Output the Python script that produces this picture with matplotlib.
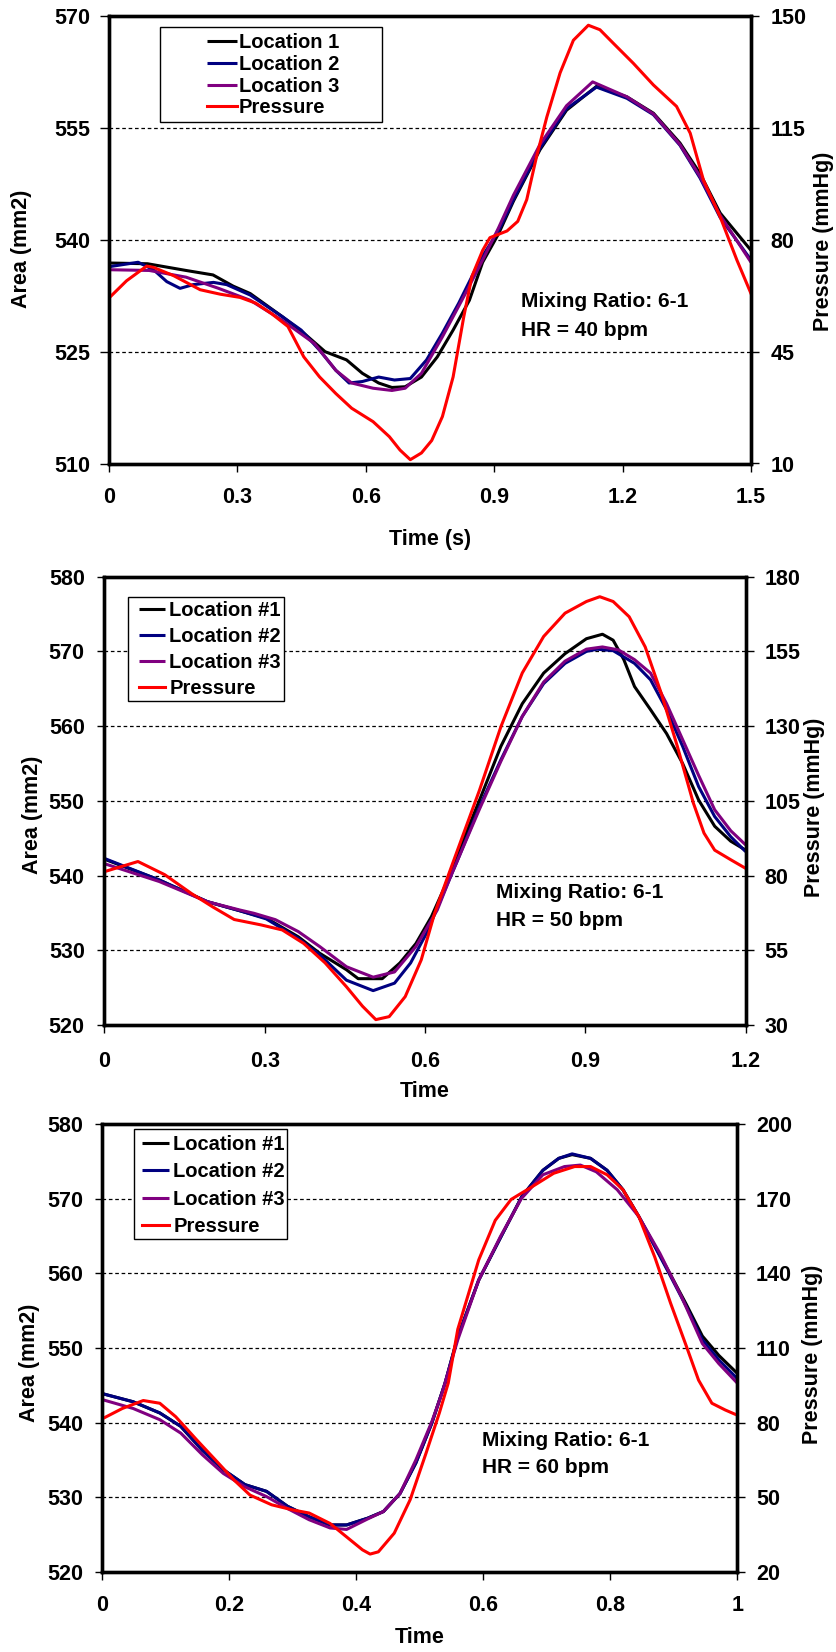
import matplotlib
matplotlib.use("Agg")
import matplotlib.pyplot as plt
from matplotlib.patches import Rectangle
from matplotlib.ticker import FixedLocator, FixedFormatter

plt.rcParams['font.family'] = ['Liberation Sans', 'DejaVu Sans']
plt.rcParams['font.weight'] = 'bold'

# ---------------- Panel 1 data (HR = 40 bpm) ----------------
p1_t_loc1 = [0, 0.09, 0.18, 0.243, 0.29, 0.33, 0.405, 0.455, 0.505, 0.555, 0.592, 0.63, 0.661, 0.692,
             0.73, 0.767, 0.804, 0.842, 0.873, 0.91, 0.945, 1.007, 1.069, 1.139, 1.21, 1.272, 1.334,
             1.381, 1.428, 1.5]
p1_a_loc1 = [536.9, 536.8, 535.9, 535.3, 533.8, 532.8, 529.7, 527.5, 525.0, 523.9, 522.1, 520.8, 520.2,
             520.3, 521.6, 524.3, 527.9, 531.9, 537.0, 540.8, 545.2, 552.1, 557.4, 560.6, 559.2, 557.0,
             553.0, 548.9, 543.6, 538.6]
p1_t_loc2 = [0, 0.068, 0.104, 0.135, 0.166, 0.197, 0.244, 0.275, 0.33, 0.405, 0.449, 0.492, 0.53, 0.561,
             0.592, 0.63, 0.667, 0.704, 0.742, 0.779, 0.817, 0.867, 0.91, 0.945, 1.007, 1.069, 1.139,
             1.21, 1.272, 1.334, 1.381, 1.428, 1.5]
p1_a_loc2 = [536.4, 537.0, 536.0, 534.4, 533.5, 534.0, 534.3, 534.0, 532.6, 529.7, 527.9, 525.2, 522.5,
             520.8, 521.0, 521.6, 521.2, 521.4, 523.9, 527.5, 531.5, 537.3, 541.2, 545.4, 552.3, 557.6,
             560.5, 559.0, 556.8, 552.7, 548.3, 543.0, 537.3]
p1_t_loc3 = [0, 0.094, 0.18, 0.256, 0.33, 0.405, 0.48, 0.53, 0.567, 0.617, 0.661, 0.692, 0.73, 0.779,
             0.829, 0.873, 0.91, 0.945, 1.007, 1.069, 1.13, 1.21, 1.272, 1.334, 1.381, 1.428, 1.5]
p1_a_loc3 = [536.0, 535.9, 535.0, 533.5, 531.9, 529.2, 526.1, 522.5, 520.8, 520.1, 519.8, 520.1, 522.1,
             527.0, 532.4, 537.3, 541.6, 546.0, 552.8, 558.0, 561.2, 559.2, 556.9, 552.8, 548.5, 543.3,
             537.0]
p1_t_pres = [0, 0.041, 0.088, 0.104, 0.151, 0.213, 0.26, 0.306, 0.343, 0.38, 0.418, 0.455, 0.492, 0.53,
             0.567, 0.617, 0.655, 0.68, 0.704, 0.73, 0.754, 0.779, 0.804, 0.829, 0.848, 0.873, 0.89,
             0.93, 0.955, 0.976, 0.999, 1.023, 1.054, 1.085, 1.12, 1.147, 1.178, 1.225, 1.272, 1.326,
             1.358, 1.389, 1.428, 1.467, 1.5]
p1_pres = [61.8, 67.2, 71.8, 71.4, 68.8, 64.4, 63.0, 62.0, 60.2, 56.9, 52.9, 43.4, 37.1, 31.9, 27.3,
           23.1, 18.4, 14.2, 11.2, 13.3, 17.2, 24.7, 37.1, 56.0, 68.6, 76.7, 80.7, 82.8, 85.8, 92.6,
           106.1, 118.5, 132.3, 142.5, 147.2, 145.8, 141.6, 135.3, 128.5, 121.8, 113.4, 98.7, 87.2,
           73.7, 63.2]
p1_xticks = [0, 0.3, 0.6, 0.9, 1.2, 1.5]
p1_xlabels = ["0", "0.3", "0.6", "0.9", "1.2", "1.5"]
p1_yticks = [510, 525, 540, 555, 570]
p1_rticks = [10, 45, 80, 115, 150]
p1_legend = ["Location 1", "Location 2", "Location 3", "Pressure"]
p1_note = ["Mixing Ratio: 6-1", "HR = 40 bpm"]
p1_xtitle = "Time (s)"

# ---------------- Panel 2 data (HR = 50 bpm) ----------------
p2_t_loc1 = [0, 0.103, 0.193, 0.253, 0.303, 0.363, 0.403, 0.453, 0.475, 0.52, 0.553, 0.583, 0.612, 0.637,
             0.652, 0.702, 0.742, 0.782, 0.822, 0.862, 0.902, 0.932, 0.952, 0.972, 0.992, 1.022, 1.052,
             1.082, 1.112, 1.142, 1.172, 1.2]
p2_a_loc1 = [542.2, 539.4, 536.5, 535.3, 534.3, 531.8, 529.6, 527.4, 526.2, 526.2, 528.3, 530.9, 534.5,
             538.5, 541.3, 550.1, 557.3, 563.0, 567.1, 569.7, 571.7, 572.3, 571.5, 568.9, 565.3, 562.2,
             559.0, 555.0, 550.1, 546.6, 544.6, 543.4]
p2_t_loc2 = [0, 0.103, 0.193, 0.253, 0.303, 0.363, 0.403, 0.453, 0.503, 0.543, 0.573, 0.603, 0.632, 0.66,
             0.702, 0.742, 0.782, 0.822, 0.862, 0.902, 0.922, 0.952, 0.992, 1.022, 1.052, 1.082, 1.112,
             1.142, 1.172, 1.2]
p2_a_loc2 = [542.3, 539.4, 536.5, 535.3, 534.2, 531.6, 529.4, 526.0, 524.6, 525.6, 528.3, 532.3, 537.2,
             541.9, 549.2, 555.5, 561.3, 565.7, 568.4, 570.0, 570.3, 570.1, 568.4, 566.2, 562.2, 557.3,
             551.9, 547.9, 545.2, 543.2]
p2_t_loc3 = [0, 0.103, 0.193, 0.253, 0.28, 0.32, 0.363, 0.403, 0.453, 0.503, 0.543, 0.583, 0.623, 0.648,
             0.702, 0.742, 0.782, 0.822, 0.862, 0.902, 0.932, 0.962, 0.992, 1.022, 1.052, 1.082, 1.112,
             1.142, 1.172, 1.2]
p2_a_loc3 = [541.6, 539.2, 536.5, 535.4, 534.95, 534.1, 532.5, 530.5, 527.8, 526.4, 527.1, 530.5, 535.4,
             539.9, 548.9, 555.3, 561.3, 565.9, 568.7, 570.3, 570.6, 570.2, 568.9, 567.1, 563.0, 558.2,
             553.4, 548.8, 546.0, 544.1]
p2_t_pres = [0, 0.063, 0.113, 0.163, 0.203, 0.243, 0.293, 0.333, 0.373, 0.413, 0.453, 0.483, 0.508, 0.533,
             0.563, 0.593, 0.618, 0.643, 0.67, 0.702, 0.742, 0.782, 0.822, 0.862, 0.902, 0.927, 0.952,
             0.982, 1.012, 1.042, 1.072, 1.102, 1.122, 1.142, 1.172, 1.2]
p2_pres = [81.3, 84.7, 80.3, 74.0, 69.5, 65.3, 63.5, 61.8, 57.3, 50.8, 42.8, 36.3, 31.8, 32.8, 39.5,
           51.8, 67.4, 79.8, 93.0, 108.6, 129.8, 147.8, 160.0, 167.8, 171.7, 173.3, 171.7, 166.6, 156.5,
           141.0, 123.3, 104.3, 94.2, 88.5, 85.3, 82.4]
p2_xticks = [0, 0.3, 0.6, 0.9, 1.2]
p2_xlabels = ["0", "0.3", "0.6", "0.9", "1.2"]
p2_yticks = [520, 530, 540, 550, 560, 570, 580]
p2_rticks = [30, 55, 80, 105, 130, 155, 180]
p2_legend = ["Location #1", "Location #2", "Location #3", "Pressure"]
p2_note = ["Mixing Ratio: 6-1", "HR = 50 bpm"]
p2_xtitle = "Time"

# ---------------- Panel 3 data (HR = 60 bpm) ----------------
p3_t_loc1 = [0, 0.049, 0.091, 0.124, 0.158, 0.191, 0.225, 0.259, 0.292, 0.326, 0.359, 0.385, 0.418, 0.443,
             0.469, 0.494, 0.519, 0.54, 0.56, 0.593, 0.628, 0.661, 0.694, 0.719, 0.74, 0.769, 0.795, 0.82,
             0.845, 0.87, 0.895, 0.92, 0.945, 0.971, 1.0]
p3_a_loc1 = [543.9, 542.8, 541.3, 539.5, 536.3, 533.7, 531.7, 530.8, 528.8, 527.4, 526.3, 526.3, 527.2,
             528.1, 530.5, 534.6, 539.9, 545.3, 551.5, 559.1, 564.9, 570.3, 573.8, 575.4, 575.9, 575.4,
             573.8, 571.2, 567.6, 563.7, 559.8, 555.8, 551.6, 549.0, 546.6]
p3_t_loc2 = [0, 0.049, 0.091, 0.124, 0.158, 0.191, 0.225, 0.259, 0.292, 0.326, 0.359, 0.385, 0.418, 0.443,
             0.469, 0.494, 0.519, 0.54, 0.56, 0.593, 0.628, 0.661, 0.694, 0.719, 0.74, 0.769, 0.795, 0.82,
             0.845, 0.87, 0.895, 0.92, 0.945, 0.971, 1.0]
p3_a_loc2 = [543.9, 542.8, 541.3, 539.5, 536.3, 533.7, 531.7, 530.8, 528.8, 527.4, 526.3, 526.3, 527.2,
             528.1, 530.5, 534.6, 539.9, 545.3, 551.5, 559.1, 564.9, 570.3, 573.8, 575.4, 576.0, 575.4,
             573.8, 571.2, 567.6, 563.6, 559.6, 555.5, 551.1, 548.4, 545.9]
p3_t_loc3 = [0, 0.049, 0.091, 0.124, 0.158, 0.191, 0.225, 0.259, 0.292, 0.326, 0.359, 0.385, 0.418, 0.443,
             0.469, 0.494, 0.519, 0.535, 0.56, 0.593, 0.627, 0.66, 0.694, 0.728, 0.753, 0.778, 0.811,
             0.845, 0.878, 0.912, 0.945, 0.971, 1.0]
p3_a_loc3 = [543.1, 541.9, 540.4, 538.6, 535.7, 533.2, 531.4, 530.1, 528.5, 527.0, 525.9, 525.7, 527.1,
             528.1, 530.5, 535.0, 540.1, 543.9, 551.1, 559.1, 564.9, 570.0, 573.2, 574.3, 574.5, 573.6,
             571.2, 567.6, 562.7, 556.9, 550.6, 547.9, 545.3]
p3_t_pres = [0, 0.032, 0.065, 0.091, 0.116, 0.149, 0.183, 0.208, 0.233, 0.267, 0.301, 0.326, 0.359, 0.385,
             0.41, 0.422, 0.435, 0.46, 0.485, 0.51, 0.531, 0.545, 0.56, 0.593, 0.619, 0.644, 0.677, 0.711,
             0.744, 0.769, 0.795, 0.82, 0.845, 0.87, 0.895, 0.92, 0.939, 0.96, 0.981, 1.0]
p3_pres = [81.5, 85.7, 88.9, 87.8, 82.4, 73.1, 63.8, 56.9, 50.9, 47.0, 44.9, 43.7, 39.5, 34.1, 28.9,
           27.2, 28.1, 35.6, 49.0, 67.7, 83.9, 95.9, 117.5, 145.4, 161.3, 169.7, 174.8, 180.2, 182.9,
           182.9, 179.6, 173.6, 162.8, 146.6, 128.0, 110.6, 97.1, 87.8, 85.1, 83.0]
p3_xticks = [0, 0.2, 0.4, 0.6, 0.8, 1.0]
p3_xlabels = ["0", "0.2", "0.4", "0.6", "0.8", "1"]
p3_yticks = [520, 530, 540, 550, 560, 570, 580]
p3_rticks = [20, 50, 80, 110, 140, 170, 200]
p3_legend = ["Location #1", "Location #2", "Location #3", "Pressure"]
p3_note = ["Mixing Ratio: 6-1", "HR = 60 bpm"]
p3_xtitle = "Time"

left_title = "Area (mm2)"
right_title = "Pressure (mmHg)"
colors = ["#000000", "#000080", "#800080", "#FF0000"]

W, H = 836, 1652
fig = plt.figure(figsize=(W / 100, H / 100), dpi=100)

FS = 15.5
LW = 2.2


def make_panel(px, series, pres, xticks, xlabels, yticks, rticks, legend_labels, note, xtitle, lay):
    x0, x1, y0, y1 = px
    ax = fig.add_axes([x0 / W, 1 - y1 / H, (x1 - x0) / W, (y1 - y0) / H])
    ax2 = ax.twinx()
    handles = []
    for (t, a), c in zip(series, colors[:3]):
        h, = ax.plot(t, a, color=c, lw=LW, solid_joinstyle='round', solid_capstyle='butt')
        handles.append(h)
    h, = ax2.plot(pres[0], pres[1], color=colors[3], lw=LW, solid_joinstyle='round')
    handles.append(h)

    ax.set_xlim(xticks[0], xticks[-1])
    ax.set_ylim(yticks[0], yticks[-1])
    ax2.set_ylim(rticks[0], rticks[-1])
    ax.xaxis.set_major_locator(FixedLocator(xticks))
    ax.xaxis.set_major_formatter(FixedFormatter(xlabels))
    ax.set_yticks(yticks)
    ax.set_yticklabels([str(v) for v in yticks])
    ax2.set_yticks(rticks)
    ax2.set_yticklabels([str(v) for v in rticks])

    ax.yaxis.grid(True, linestyle=(0, (2.9, 2.2)), color='black', lw=0.9)
    for a_ in (ax, ax2):
        for s in a_.spines.values():
            s.set_linewidth(2.4)
    ax.tick_params(axis='y', direction='out', length=lay['ylen'], width=1, pad=lay['lpad'],
                   labelsize=FS, right=False)
    ax.tick_params(axis='x', direction='out', length=5.8, width=1, pad=lay['xpad'], labelsize=FS, top=False)
    ax2.tick_params(axis='y', direction='out', length=5.5, width=1, pad=lay['rpad'], labelsize=FS)
    for lab in ax.get_xticklabels() + ax.get_yticklabels() + ax2.get_yticklabels():
        lab.set_fontweight('bold')

    ax.set_xlabel(xtitle, fontsize=FS, fontweight='bold')
    ax.xaxis.set_label_coords(0.5, lay['xlab_y'])
    ax.xaxis.label.set_va('center')
    ax.set_ylabel(left_title, fontsize=FS, fontweight='bold')
    ax.yaxis.set_label_coords(lay['ylab'][0], lay['ylab'][1])
    ax.yaxis.label.set_va('center')
    ax2.set_ylabel(right_title, fontsize=FS, fontweight='bold')
    ax2.yaxis.set_label_coords(lay['rlab'][0], lay['rlab'][1])
    ax2.yaxis.label.set_va('center')

    ax.text(lay['note'][0], lay['note'][1], note[0], transform=ax.transAxes, fontsize=15,
            fontweight='bold', ha='left', va='center')
    ax.text(lay['note'][0], lay['note'][2], note[1], transform=ax.transAxes, fontsize=15,
            fontweight='bold', ha='left', va='center')

    bx0, bx1, by1, by0 = lay['box']
    ax2.add_patch(Rectangle((bx0, by0), bx1 - bx0, by1 - by0, transform=ax2.transAxes,
                            facecolor='white', edgecolor='black', lw=1.0, zorder=4))
    leg = ax2.legend(handles, legend_labels, loc='upper left', bbox_to_anchor=lay['leg'],
                     frameon=False, borderpad=0, borderaxespad=0, handlelength=lay['hl'],
                     handletextpad=lay['htp'], labelspacing=lay['ls'],
                     prop={'weight': 'bold', 'size': 14.5})
    leg.set_zorder(5)
    return ax, ax2


layouts = [
    dict(ylen=6.5, lpad=6.7, rpad=8.4, xpad=11, xlab_y=-0.1695, ylab=(-0.136, 0.48), rlab=(1.1137, 0.4975),
         note=(0.6425, 0.3618, 0.297), box=(0.0794, 0.425, 0.976, 0.7636), leg=(0.152, 0.9624),
         hl=1.49, htp=0.12, ls=0.135),
    dict(ylen=5.2, lpad=8.9, rpad=8.1, xpad=12.7, xlab_y=-0.1488, ylab=(-0.1127, 0.4684), rlab=(1.108, 0.4863),
         note=(0.6102, 0.2951, 0.232), box=(0.0374, 0.2797, 0.9554, 0.7227), leg=(0.0541, 0.9449),
         hl=1.29, htp=0.21, ls=0.34),
    dict(ylen=5.2, lpad=8.4, rpad=8.0, xpad=10.6, xlab_y=-0.1473, ylab=(-0.1149, 0.4665), rlab=(1.1176, 0.4866),
         note=(0.5986, 0.2946, 0.2337), box=(0.0504, 0.2917, 0.9888, 0.7426), leg=(0.0637, 0.9753),
         hl=1.32, htp=0.21, ls=0.41),
]

make_panel((109, 751, 16.3, 463.5),
           [(p1_t_loc1, p1_a_loc1), (p1_t_loc2, p1_a_loc2), (p1_t_loc3, p1_a_loc3)],
           (p1_t_pres, p1_pres), p1_xticks, p1_xlabels, p1_yticks, p1_rticks, p1_legend, p1_note,
           p1_xtitle, layouts[0])
make_panel((104.3, 745.7, 576.7, 1025),
           [(p2_t_loc1, p2_a_loc1), (p2_t_loc2, p2_a_loc2), (p2_t_loc3, p2_a_loc3)],
           (p2_t_pres, p2_pres), p2_xticks, p2_xlabels, p2_yticks, p2_rticks, p2_legend, p2_note,
           p2_xtitle, layouts[1])
make_panel((102, 737.3, 1124, 1572),
           [(p3_t_loc1, p3_a_loc1), (p3_t_loc2, p3_a_loc2), (p3_t_loc3, p3_a_loc3)],
           (p3_t_pres, p3_pres), p3_xticks, p3_xlabels, p3_yticks, p3_rticks, p3_legend, p3_note,
           p3_xtitle, layouts[2])

fig.savefig("out.png", dpi=100, facecolor='white')
